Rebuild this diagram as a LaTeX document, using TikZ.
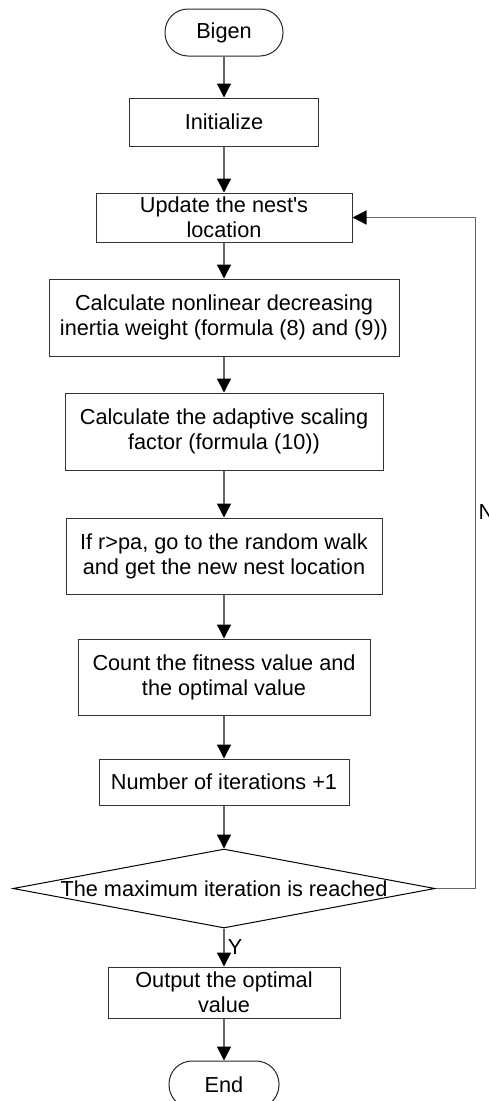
\documentclass[tikz,border=0pt]{standalone}
\usepackage{fontspec}
\setmainfont{Liberation Sans}
\usetikzlibrary{arrows.meta}
\usetikzlibrary{shapes.geometric}

\begin{document}
\begin{tikzpicture}[x=1pt, y=-1pt, line width=1pt,
    every node/.style={font=\fontsize{21.7}{25}\selectfont, inner sep=0pt, align=center},
    term/.style={draw=black!85, rounded corners=23pt, minimum height=47pt},
    proc/.style={draw=black!80},
    dec/.style={shape=diamond, draw=black, minimum width=422pt, minimum height=79pt},
    flow/.style={draw=black!60, line width=1.3pt, -{Triangle[length=14pt, width=14pt, color=black]}}]
    \useasboundingbox (0,0) rectangle (489,1101);
    \node[term, minimum width=118pt] (1) at (224,32.5) {Bigen};
    \node[proc, minimum width=189pt, minimum height=48pt] (2) at (224,122) {Initialize};
    \node[proc, minimum width=256pt, minimum height=49pt] (3) at (224,217.5) {Update the nest\textquotesingle s\\location};
    \node[proc, minimum width=350pt, minimum height=77pt] (4) at (224,317.5) {Calculate nonlinear decreasing\\inertia weight (formula (8) and (9))};
    \node[proc, minimum width=318pt, minimum height=77pt] (5) at (224,431.5) {Calculate the adaptive scaling\\factor (formula (10))};
    \node[proc, minimum width=316pt, minimum height=76pt] (6) at (224,556) {If r>pa, go to the random walk\\and get the new nest location};
    \node[proc, minimum width=292pt, minimum height=76pt] (7) at (224,677) {Count the fitness value and\\the optimal value};
    \node[proc, minimum width=250pt, minimum height=46pt] (8) at (224,782) {Number of iterations +1};
    \node[dec] (9) at (224,888.5) {\makebox[0pt]{The maximum iteration is reached}};
    \node[proc, minimum width=232pt, minimum height=51pt] (10) at (224,992.5) {Output the optimal\\value};
    \node[term, minimum width=110pt] (11) at (224,1084.5) {End};
    \node (12) at (235,947.5) {Y};
    \node[anchor=west] (13) at (478,512) {N};
    \draw[flow] (1) -- (2);
    \draw[flow] (2) -- (3);
    \draw[flow] (3) -- (4);
    \draw[flow] (4) -- (5);
    \draw[flow] (5) -- (6);
    \draw[flow] (6) -- (7);
    \draw[flow] (7) -- (8);
    \draw[flow] (8) -- (9);
    \draw[flow] (9) -- (10);
    \draw[flow] (10) -- (11);
    \draw[flow] (9.east) -- ++(40,0) |- (3.east);
\end{tikzpicture}
\end{document}
